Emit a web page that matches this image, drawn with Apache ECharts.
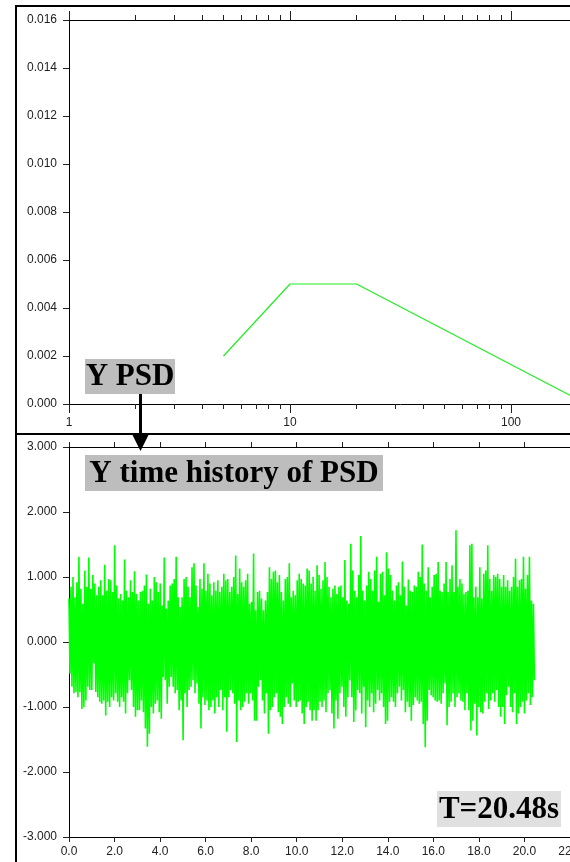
<!DOCTYPE html>
<html>
<head>
<meta charset="utf-8">
<script src="https://cdn.jsdelivr.net/npm/echarts@6/dist/echarts.min.js"></script>
<style>
  html, body { margin: 0; padding: 0; overflow: hidden; background: #fff; width: 570px; height: 862px; }
  #chart { width: 780px; height: 862px; }
</style>
</head>
<body>
<div id="chart"></div>
<script>
// PSD breakpoints (frequency in Hz, level in g^2/Hz)
const psdFreq = [5, 10, 20, 200];
const psdLevel = [0.002, 0.005, 0.005, 0.0002];

// Frequency axis ticks
const freqMinorTicks = [2, 3, 4, 5, 6, 7, 8, 9, 20, 30, 40, 50, 60, 70, 80, 90, 200, 300, 400, 500, 600, 700, 800, 900];

// Time history: record length and alternating positive / negative peaks
const traceDuration = 20.48;
const peakHigh = [
  0.67, 0.85, 1.00, 0.69, 0.92, 1.31, 0.82, 0.59, 1.10, 0.85,
  1.30, 0.82, 1.03, 0.90, 0.72, 0.85, 0.95, 0.72, 1.19, 0.79,
  0.97, 0.95, 0.77, 1.49, 0.87, 0.67, 0.74, 0.64, 1.27, 0.79,
  0.69, 0.95, 0.77, 1.09, 0.74, 0.64, 0.77, 0.79, 0.87, 1.04,
  0.59, 0.82, 0.64, 1.00, 0.92, 0.77, 0.90,
  0.56, 1.30, 0.51, 0.64, 0.87, 0.90, 0.97, 1.31, 0.69, 0.54,
  0.69, 0.97, 1.00, 0.85, 0.69, 1.15, 1.21, 0.87, 0.54, 0.97,
  0.82, 1.21, 0.79, 1.05, 0.90, 0.72, 0.92, 0.79, 0.95, 0.77,
  0.85, 1.05, 0.95, 0.97, 0.77, 0.85, 1.00, 1.33, 0.74, 1.13,
  0.92, 0.85, 0.95, 1.05, 0.59, 0.62, 1.36,
  0.49, 0.77, 0.79, 0.67, 0.49, 0.64, 0.77, 1.15, 0.97, 1.08,
  1.10, 0.92, 1.03, 0.77, 0.64, 0.97, 1.00, 1.21, 0.69, 0.79,
  0.72, 0.95, 1.05, 0.97, 0.90, 0.87, 1.13, 1.10, 0.90, 1.00,
  0.79, 1.18, 1.03, 0.82, 0.95, 1.23, 1.00, 0.85, 0.69, 0.82,
  0.87, 0.74, 0.85, 0.87, 0.69, 1.26, 0.64,
  0.59, 1.51, 1.10, 0.79, 0.69, 1.03, 1.63, 0.79, 0.64, 0.87,
  1.08, 0.97, 0.79, 1.10, 1.31, 0.62, 1.05, 1.08, 0.72, 1.38,
  1.13, 1.03, 0.79, 0.64, 0.87, 0.92, 0.72, 1.24, 0.85, 0.56,
  0.96, 0.79, 0.77, 0.87, 0.85, 1.08, 1.00, 1.50, 0.90, 0.79,
  1.15, 0.69, 0.85, 1.03, 1.05, 1.23, 0.79,
  0.77, 0.90, 1.23, 0.77, 0.97, 1.18, 0.77, 1.72, 0.85, 0.97,
  0.90, 0.74, 0.77, 0.79, 1.49, 1.51, 0.69, 0.85, 0.69, 1.15,
  0.67, 1.05, 1.10, 1.49, 0.97, 0.79, 1.03, 1.00, 1.05, 0.97,
  0.85, 1.03, 0.85, 0.95, 0.79, 0.85, 1.00, 1.28, 0.85, 0.95,
  0.97, 1.31, 0.82, 1.03, 1.31, 0.64, 0.59
];
const peakLow = [
  -0.49, -0.69, -0.79, -0.77, -0.85, -0.77, -1.03, -1.00, -0.90, -0.69,
  -0.74, -0.74, -0.33, -0.77, -0.85, -0.92, -0.95, -0.90, -1.13, -0.92,
  -1.00, -0.85, -0.90, -0.79, -0.92, -1.00, -0.85, -0.92, -1.10, -0.79,
  -0.59, -0.74, -1.00, -1.15, -1.05, -1.05, -0.90, -1.08, -1.33, -1.61,
  -1.41, -1.00, -1.10, -0.95, -0.90, -1.08, -1.18,
  -0.54, -0.59, -0.95, -0.69, -0.54, -0.69, -0.79, -0.74, -1.05, -0.90,
  -1.51, -0.79, -1.00, -0.74, -0.69, -0.59, -0.79, -0.64, -0.95, -1.33,
  -0.85, -0.97, -0.90, -1.05, -1.00, -0.90, -1.10, -0.85, -1.00, -0.74,
  -1.05, -0.85, -1.38, -0.85, -0.74, -0.79, -0.95, -1.54, -0.90, -1.05,
  -1.00, -0.92, -0.79, -0.95, -0.79, -0.90, -1.21,
  -1.21, -0.69, -0.59, -0.90, -1.10, -0.79, -1.41, -1.05, -1.00, -0.85,
  -0.79, -1.08, -1.15, -1.26, -1.00, -0.85, -0.95, -1.00, -0.64, -0.90,
  -1.00, -0.92, -0.90, -1.10, -1.26, -1.00, -0.92, -1.05, -1.21, -1.05,
  -1.21, -1.05, -0.92, -1.00, -0.90, -1.08, -0.79, -0.74, -1.10, -1.33,
  -0.90, -1.18, -0.79, -0.69, -1.00, -1.15, -0.85,
  -0.59, -0.85, -1.23, -1.05, -0.74, -0.79, -1.10, -0.69, -1.31, -0.90,
  -1.00, -0.79, -1.08, -0.95, -0.74, -0.90, -0.79, -1.00, -1.26, -1.21,
  -0.92, -0.85, -0.92, -1.00, -0.79, -0.69, -0.90, -0.74, -1.08, -0.92,
  -1.00, -1.21, -0.97, -0.85, -0.90, -0.95, -0.92, -1.26, -1.62, -1.21,
  -0.74, -0.82, -0.85, -0.90, -0.92, -0.90, -0.95,
  -0.79, -0.64, -1.28, -1.00, -0.92, -0.79, -1.00, -0.85, -0.79, -0.90,
  -0.92, -1.05, -0.79, -1.05, -1.36, -1.21, -0.95, -1.44, -1.00, -1.08,
  -1.10, -0.92, -0.79, -1.03, -0.90, -0.79, -0.92, -0.74, -1.00, -1.15,
  -1.00, -1.26, -0.82, -0.69, -1.00, -1.08, -0.79, -1.26, -1.10, -1.00,
  -0.92, -1.10, -0.90, -0.79, -0.97, -0.85, -0.59
];

const psdData = psdFreq.map((f, i) => [f, psdLevel[i]]);

const sampleStep = traceDuration / peakHigh.length;
const traceData = [];
for (let i = 0; i < peakHigh.length; i++) {
  traceData.push([i * sampleStep, peakHigh[i]]);
  traceData.push([(i + 0.5) * sampleStep, peakLow[i]]);
}

const labelFont = { fontFamily: 'Liberation Sans', fontSize: 12, color: '#222' };
const axisLine = { show: true, onZero: false, lineStyle: { color: '#000', width: 1 } };
const tickStyle = { color: '#222', width: 1 };

const psdTop = 20, psdHeight = 384;
const thTop = 447, thHeight = 390;
const plotLeft = 69;

const option = {
  animation: false,
  backgroundColor: '#fff',
  grid: [
    { left: plotLeft, top: psdTop, width: 663, height: psdHeight },
    { left: plotLeft, top: thTop, width: 501, height: thHeight },
    { left: plotLeft, top: psdTop, width: 663, height: psdHeight }
  ],
  xAxis: [
    { // PSD frequency, major ticks and labels
      gridIndex: 0, type: 'log', logBase: 10, min: 1, max: 1000, position: 'bottom',
      axisLine, axisTick: { show: true, length: 9, lineStyle: tickStyle },
      axisLabel: Object.assign({ margin: 13 }, labelFont),
      splitLine: { show: false }
    },
    {
      gridIndex: 0, type: 'log', logBase: 10, min: 1, max: 1000, position: 'top',
      axisLine, axisTick: { show: true, length: 9, lineStyle: tickStyle },
      axisLabel: { show: false }, splitLine: { show: false }
    },
    { // time
      gridIndex: 1, type: 'value', min: 0, max: 22, interval: 2, position: 'bottom',
      axisLine, axisTick: { show: true, length: 5, lineStyle: tickStyle },
      axisLabel: Object.assign({ margin: 9, formatter: v => v.toFixed(1) }, labelFont),
      splitLine: { show: false }
    },
    {
      gridIndex: 1, type: 'value', min: 0, max: 22, interval: 2, position: 'top',
      axisLine, axisTick: { show: true, length: 5, lineStyle: tickStyle },
      axisLabel: { show: false }, splitLine: { show: false }
    },
    { // PSD frequency, minor ticks
      gridIndex: 2, type: 'log', logBase: 10, min: 1, max: 1000, position: 'bottom',
      axisLine: { show: false, onZero: false },
      axisTick: { show: true, length: 5, lineStyle: tickStyle, customValues: freqMinorTicks },
      axisLabel: { show: false }, splitLine: { show: false }
    },
    {
      gridIndex: 2, type: 'log', logBase: 10, min: 1, max: 1000, position: 'top',
      axisLine: { show: false, onZero: false },
      axisTick: { show: true, length: 5, lineStyle: tickStyle, customValues: freqMinorTicks },
      axisLabel: { show: false }, splitLine: { show: false }
    }
  ],
  yAxis: [
    {
      gridIndex: 0, type: 'value', min: 0, max: 0.016, interval: 0.002,
      axisLine, axisTick: { show: true, length: 6, lineStyle: tickStyle },
      axisLabel: Object.assign({ margin: 12, formatter: v => v.toFixed(3) }, labelFont),
      splitLine: { show: false }
    },
    {
      gridIndex: 1, type: 'value', min: -3, max: 3, interval: 1,
      axisLine, axisTick: { show: true, length: 6, lineStyle: tickStyle },
      axisLabel: Object.assign({ margin: 12, formatter: v => v.toFixed(3) }, labelFont),
      splitLine: { show: false }
    },
    { gridIndex: 2, type: 'value', min: 0, max: 0.016, show: false }
  ],
  series: [
    {
      name: 'Y PSD', type: 'line', xAxisIndex: 0, yAxisIndex: 0,
      data: psdData, showSymbol: false, symbol: 'none',
      lineStyle: { color: '#22ee22', width: 1.2 }, z: 3
    },
    {
      name: 'Y time history', type: 'line', xAxisIndex: 2, yAxisIndex: 1,
      data: traceData, showSymbol: false, symbol: 'none', sampling: null,
      lineStyle: { color: '#00ff00', width: 1.6 }, z: 3
    }
  ],
  graphic: [
    // panel frames
    { type: 'line', shape: { x1: 15, y1: 6, x2: 780, y2: 6 }, style: { stroke: '#000', lineWidth: 2 }, z: 10 },
    { type: 'line', shape: { x1: 16, y1: 5, x2: 16, y2: 862 }, style: { stroke: '#000', lineWidth: 2 }, z: 10 },
    { type: 'line', shape: { x1: 15, y1: 434, x2: 780, y2: 434 }, style: { stroke: '#000', lineWidth: 2 }, z: 10 },
    // "Y PSD" tag with arrow into the lower panel
    { type: 'rect', shape: { x: 85, y: 359, width: 90, height: 35 }, style: { fill: '#bdbdbd' }, z: 11 },
    { type: 'text', z: 12, style: { text: 'Y PSD', x: 130, y: 377, font: 'bold 31px "Liberation Serif"', fill: '#000', align: 'center', verticalAlign: 'middle', textAlign: 'center', textVerticalAlign: 'middle' } },
    { type: 'line', shape: { x1: 140.5, y1: 394, x2: 140.5, y2: 437 }, style: { stroke: '#000', lineWidth: 3 }, z: 11 },
    { type: 'polygon', shape: { points: [[132.5, 435], [148.5, 435], [140.5, 451]] }, style: { fill: '#000' }, z: 11 },
    // lower panel title
    { type: 'rect', shape: { x: 85, y: 455, width: 298, height: 36 }, style: { fill: '#bdbdbd' }, z: 11 },
    { type: 'text', z: 12, style: { text: 'Y time history of PSD', x: 234, y: 473.5, font: 'bold 31px "Liberation Serif"', fill: '#000', align: 'center', verticalAlign: 'middle', textAlign: 'center', textVerticalAlign: 'middle' } },
    // record length
    { type: 'rect', shape: { x: 437, y: 791, width: 124, height: 36 }, style: { fill: '#e0e0e0' }, z: 11 },
    { type: 'text', z: 12, style: { text: 'T=20.48s', x: 499, y: 809.5, font: 'bold 31px "Liberation Serif"', fill: '#000', align: 'center', verticalAlign: 'middle', textAlign: 'center', textVerticalAlign: 'middle' } }
  ]
};

const chart = echarts.init(document.getElementById('chart'), null, { renderer: 'canvas' });
chart.setOption(option);
</script>
</body>
</html>
